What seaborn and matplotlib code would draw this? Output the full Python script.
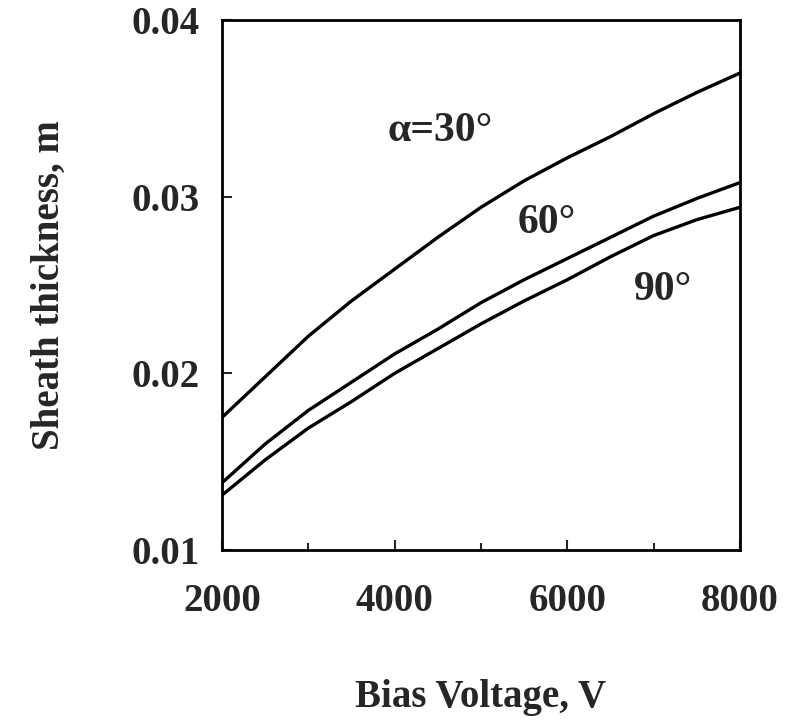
import numpy as np
import pandas as pd
import matplotlib
matplotlib.use('Agg')
import matplotlib.pyplot as plt
import seaborn as sns
from matplotlib.ticker import MultipleLocator

sns.set_style('ticks')
plt.rcParams['font.family'] = ['Liberation Serif', 'DejaVu Serif']
plt.rcParams['font.weight'] = 'bold'

voltage = [2000, 2500, 3000, 3500, 4000, 4500, 5000, 5500, 6000, 6500, 7000, 7500, 8000]
thick_30 = [0.0175, 0.0198, 0.0221, 0.0241, 0.0259, 0.0277, 0.0294, 0.0309, 0.0322, 0.0334, 0.0347, 0.0359, 0.0370]
thick_60 = [0.0138, 0.0160, 0.0179, 0.0195, 0.0211, 0.0225, 0.0240, 0.0253, 0.0265, 0.0277, 0.0289, 0.0299, 0.0308]
thick_90 = [0.0131, 0.0151, 0.0169, 0.0184, 0.0200, 0.0214, 0.0228, 0.0241, 0.0253, 0.0266, 0.0278, 0.0287, 0.0294]

angle_labels = ['\u03b1=30\u00b0', '60\u00b0', '90\u00b0']
label_x = [4525, 5760, 7110]
label_y = [0.0337, 0.0285, 0.0247]

df = pd.concat([
    pd.DataFrame({'V': voltage, 'd': thick_30, 'angle': '30'}),
    pd.DataFrame({'V': voltage, 'd': thick_60, 'angle': '60'}),
    pd.DataFrame({'V': voltage, 'd': thick_90, 'angle': '90'}),
])

fig = plt.figure(figsize=(7.86, 7.2), dpi=100)
ax = fig.add_axes([0.2824, 0.2361, 0.6591, 0.7361])
sns.lineplot(data=df, x='V', y='d', hue='angle', palette=['black'] * 3,
             linewidth=2.4, legend=False, ax=ax)

for txt, xx, yy in zip(angle_labels, label_x, label_y):
    ax.text(xx, yy, txt, fontsize=30, fontweight='bold', ha='center', va='center')

ax.set_xlim(2000, 8000)
ax.set_ylim(0.01, 0.04)
ax.set_xticks([2000, 4000, 6000, 8000])
ax.xaxis.set_minor_locator(MultipleLocator(1000))
ax.set_yticks([0.01, 0.02, 0.03, 0.04])
ax.set_yticklabels(['0.01', '0.02', '0.03', '0.04'])
ax.tick_params(axis='both', which='both', direction='in', width=1.5, labelsize=28)
ax.tick_params(axis='x', which='major', length=7, pad=24)
ax.tick_params(axis='x', which='minor', length=5)
ax.tick_params(axis='y', which='major', length=7, pad=16)
for lab in ax.get_xticklabels() + ax.get_yticklabels():
    lab.set_fontweight('bold')
for sp in ax.spines.values():
    sp.set_linewidth(2)
    sp.set_color('black')

ax.set_xlabel('Bias Voltage, V', fontsize=28, fontweight='bold', labelpad=42)
ax.set_ylabel('Sheath thickness, m', fontsize=28, fontweight='bold', labelpad=46)

fig.savefig('out.png', dpi=100)
